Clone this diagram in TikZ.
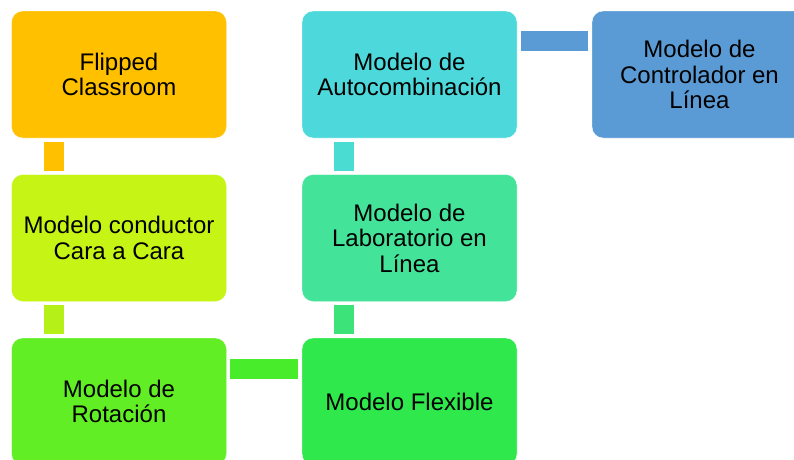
\documentclass[tikz,border=0pt]{standalone}
\usepackage{fontspec}
\setmainfont{Liberation Sans}
\usetikzlibrary{positioning}
\usepackage{xcolor}

\definecolor{flipcol}{HTML}{FFC000}
\definecolor{condcol}{HTML}{C6F414}
\definecolor{rotcol}{HTML}{62EE24}
\definecolor{flexcol}{HTML}{2FE84C}
\definecolor{labcol}{HTML}{44E39A}
\definecolor{autocol}{HTML}{4DD9DC}
\definecolor{ctrlcol}{HTML}{5B9BD5}
\definecolor{linkA}{HTML}{FFC000}
\definecolor{linkB}{HTML}{B5F119}
\definecolor{linkC}{HTML}{49EC2A}
\definecolor{linkD}{HTML}{3CE378}
\definecolor{linkE}{HTML}{4ADCD3}
\definecolor{linkF}{HTML}{5B9BD5}

\tikzset{
  modelbox/.style={rounded corners=11pt, draw=white, thin, fill=#1,
    minimum width=215pt, minimum height=127pt, inner sep=0pt,
    align=center, font=\fontsize{24}{25.5}\selectfont},
  linkbar/.style={draw=#1, line width=20pt, shorten <=3.5pt, shorten >=3.5pt},
}

\begin{document}
\begin{tikzpicture}[x=1pt, y=-1pt]
    \clip (0,0) rectangle (794,459);

    % Left column
    \node[modelbox=flipcol] (flip) at (119,74.5) {Flipped\\Classroom};
    \node[modelbox=condcol] (cond) at (119,238) {Modelo conductor\\Cara a Cara};
    \node[modelbox=rotcol] (rot) at (119,401.5) {Modelo de\\Rotación};

    % Middle column
    \node[modelbox=flexcol] (flex) at (409.5,401.5) {Modelo Flexible};
    \node[modelbox=labcol] (lab) at (409.5,238) {Modelo de\\Laboratorio en\\Línea};
    \node[modelbox=autocol] (auto) at (409.5,74.5) {Modelo de\\Autocombinación};

    % Right column
    \node[modelbox=ctrlcol] (ctrl) at (699.5,74.5) {Modelo de\\Controlador en\\Línea};

    % Links
    \draw[linkbar=linkA] ([xshift=-65pt]flip.south) -- ([xshift=-65pt]cond.north);
    \draw[linkbar=linkB] ([xshift=-65pt]cond.south) -- ([xshift=-65pt]rot.north);
    \draw[linkbar=linkC] ([yshift=32.5pt]rot.east) -- ([yshift=32.5pt]flex.west);
    \draw[linkbar=linkD] ([xshift=-65.5pt]flex.north) -- ([xshift=-65.5pt]lab.south);
    \draw[linkbar=linkE] ([xshift=-65.5pt]lab.north) -- ([xshift=-65.5pt]auto.south);
    \draw[linkbar=linkF] ([yshift=33.5pt]auto.east) -- ([yshift=33.5pt]ctrl.west);
\end{tikzpicture}
\end{document}
